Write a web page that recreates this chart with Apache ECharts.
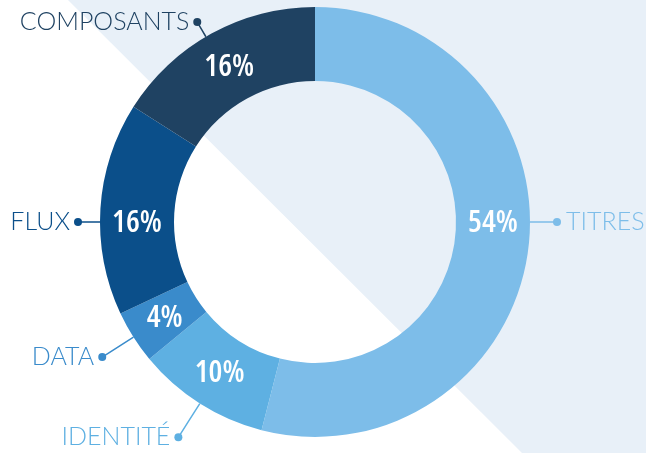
<!DOCTYPE html>
<html><head><meta charset="utf-8">
<script src="https://cdn.jsdelivr.net/npm/echarts@6/dist/echarts.min.js"></script>
<style>html,body{margin:0;padding:0;background:#fff}#c{width:646px;height:453px}</style>
</head><body><div id="c"></div><script>
const categories = ['TITRES','IDENTITÉ','DATA','FLUX','COMPOSANTS'];
const values = [54, 10, 4, 16, 16];
const colors = ['#7dbde9','#5eb0e2','#3a8bcb','#0b4f8a','#1f4262'];

const CX = 315, CY = 222, R0 = 141, R1 = 215;
const total = values.reduce((a, b) => a + b, 0);
const mids = []; let acc = 0;
values.forEach(v => { mids.push((acc + v / 2) / total * 360); acc += v; });
const pctAngle = [90, null, null, 270, null];
const nameAngle = [90, null, null, 270, 329.5];
const lineLen = [27, 40, 37, 22, 17];
function pt(deg, r) { const a = deg * Math.PI / 180; return [CX + r * Math.sin(a), CY - r * Math.cos(a)]; }

// pick the narrowest available face for the percentage labels
const cands = [
  ['600 condensed', "'Open Sans'"],
  ['600 condensed', "'Noto Sans'"],
  ['bold', "'Liberation Sans Narrow'"],
  ['bold', "'DejaVu Sans Condensed'"],
  ['500', "Roboto"]
];
const cv = document.createElement('canvas').getContext('2d');
let best = cands[cands.length - 1], bestW = Infinity;
cands.forEach(c => {
  cv.font = 'normal ' + c[0] + ' 100px ' + c[1];
  const w = cv.measureText('16%').width;
  if (w < bestW - 0.5) { bestW = w; best = c; }
});
const pctSize = Math.max(28, Math.min(33, Math.round(50 / bestW * 100)));

const chart = echarts.init(document.getElementById('c'), null, {renderer: 'canvas'});
const nameFont = 'Lato';
chart.setOption({
  animation: false,
  graphic: [{
    type: 'polygon', z: -10, silent: true,
    shape: {points: [[68, 0], [646, 0], [646, 453], [522, 453]]},
    style: {fill: '#e8f0f8'}
  }],
  series: [
    {
      type: 'pie', center: [CX, CY], radius: [R0, R1], startAngle: 90, clockwise: true,
      silent: true, z: 2,
      data: categories.map((n, i) => ({name: n, value: values[i], itemStyle: {color: colors[i]}})),
      label: {
        position: 'inside', formatter: '{c}%', color: '#fff',
        fontFamily: best[1],
        fontWeight: best[0], fontSize: pctSize
      },
      labelLine: {show: false},
      labelLayout: function (p) {
        const i = p.dataIndex;
        const ang = pctAngle[i] == null ? mids[i] : pctAngle[i];
        const q = pt(ang, (R0 + R1) / 2);
        return {x: q[0], y: q[1] + 1, align: 'center', verticalAlign: 'middle'};
      }
    },
    {
      type: 'pie', center: [CX, CY], radius: [R0, R1], startAngle: 90, clockwise: true,
      silent: true, z: 3,
      data: categories.map((n, i) => {
        const ang = nameAngle[i] == null ? mids[i] : nameAngle[i];
        const right = ang < 180;
        return {
          name: n, value: values[i],
          itemStyle: {color: 'rgba(0,0,0,0)'},
          label: {
            formatter: right ? '{dot| }{t|' + n + '}' : '{t|' + n + '}{dot| }',
            rich: {
              dot: {width: 8, height: 8, borderRadius: 4, backgroundColor: colors[i], fontSize: 1},
              t: {color: colors[i], fontFamily: nameFont, fontWeight: 300, fontSize: 25,
                  padding: right ? [0, 0, 0, 5] : [0, 4, 0, 0]}
            }
          },
          labelLine: {lineStyle: {color: colors[i], width: 1.5}}
        };
      }),
      label: {position: 'outside', show: true, overflow: 'none', edgeDistance: 0},
      labelLine: {show: true, length: 10, length2: 10},
      labelLayout: function (p) {
        const i = p.dataIndex;
        const ang = nameAngle[i] == null ? mids[i] : nameAngle[i];
        const right = ang < 180;
        const s = pt(ang, R1);
        const d = pt(ang, R1 + lineLen[i]);
        const m = [(s[0] + d[0]) / 2, (s[1] + d[1]) / 2];
        return {
          x: right ? d[0] - 4 : d[0] + 4, y: d[1],
          align: right ? 'left' : 'right', verticalAlign: 'middle',
          labelLinePoints: [s, m, d]
        };
      }
    }
  ]
});
</script></body></html>
